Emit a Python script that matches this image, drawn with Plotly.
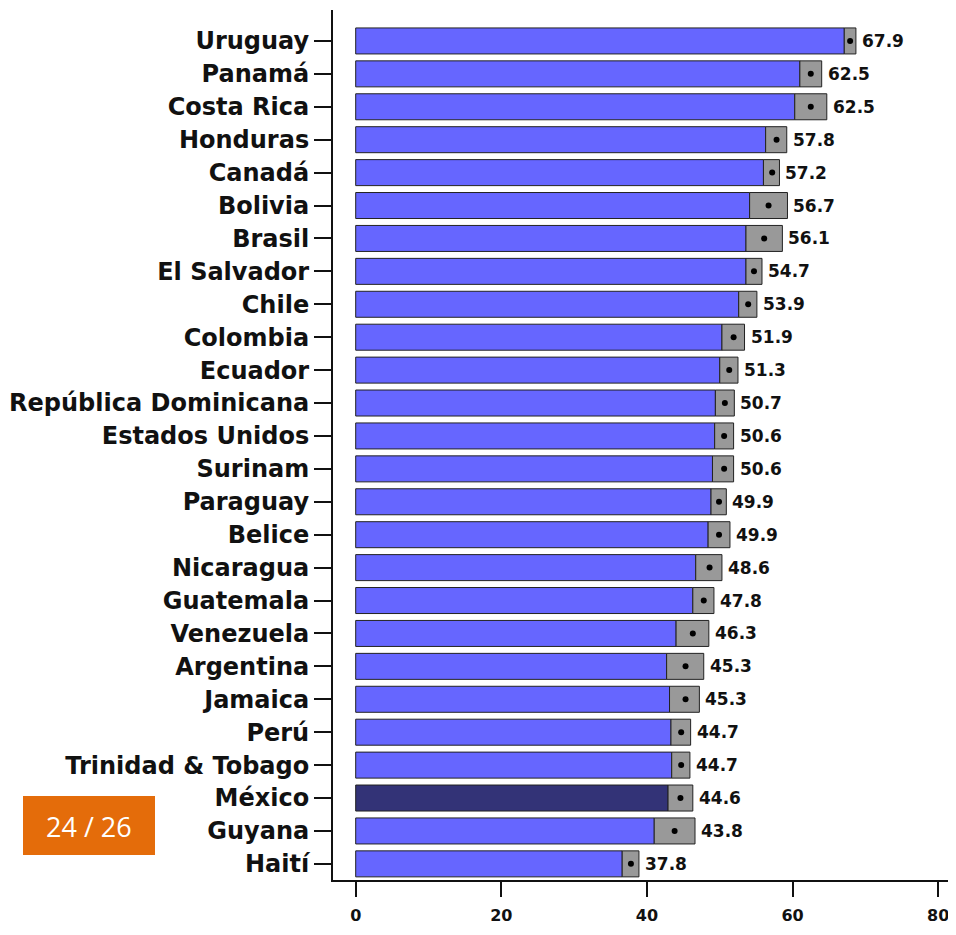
import plotly.graph_objects as go

countries = ["Uruguay", "Panamá", "Costa Rica", "Honduras", "Canadá", "Bolivia", "Brasil",
             "El Salvador", "Chile", "Colombia", "Ecuador", "República Dominicana",
             "Estados Unidos", "Surinam", "Paraguay", "Belice", "Nicaragua", "Guatemala",
             "Venezuela", "Argentina", "Jamaica", "Perú", "Trinidad & Tobago", "México",
             "Guyana", "Haití"]
values = [67.9, 62.5, 62.5, 57.8, 57.2, 56.7, 56.1, 54.7, 53.9, 51.9, 51.3, 50.7, 50.6,
          50.6, 49.9, 49.9, 48.6, 47.8, 46.3, 45.3, 45.3, 44.7, 44.7, 44.6, 43.8, 37.8]
ci_low = [67.1, 61.0, 60.3, 56.3, 56.0, 54.1, 53.6, 53.6, 52.6, 50.3, 50.0, 49.4, 49.3,
          49.0, 48.8, 48.4, 46.7, 46.3, 44.0, 42.7, 43.1, 43.3, 43.4, 42.9, 41.0, 36.6]
ci_high = [68.7, 64.0, 64.7, 59.2, 58.2, 59.3, 58.6, 55.8, 55.1, 53.4, 52.5, 52.0, 51.9,
           51.9, 50.9, 51.4, 50.3, 49.2, 48.5, 47.8, 47.2, 46.0, 45.9, 46.3, 46.6, 38.9]
highlight = "México"
page_label = "24 / 26"

# reverse so first country is at top
cats = countries[::-1]
vals = values[::-1]
lo = ci_low[::-1]
hi = ci_high[::-1]

blue = "#6666FF"
dark = "#333377"
gray = "#999999"
bar_colors = [dark if c == highlight else blue for c in cats]
FONT = "DejaVu Sans, Verdana, sans-serif"

fig = go.Figure()
fig.add_trace(go.Bar(
    y=cats, x=lo, base=0, orientation="h", width=0.79,
    marker=dict(color=bar_colors, line=dict(color="#222222", width=1)),
    hoverinfo="skip", showlegend=False))
fig.add_trace(go.Bar(
    y=cats, x=[h - l for h, l in zip(hi, lo)], base=lo, orientation="h", width=0.79,
    marker=dict(color=gray, line=dict(color="#222222", width=1)),
    hoverinfo="skip", showlegend=False))
fig.add_trace(go.Scatter(
    y=cats, x=vals, mode="markers",
    marker=dict(color="black", size=6), showlegend=False, hoverinfo="skip"))

annotations = []
for c, v, h in zip(cats, vals, hi):
    annotations.append(dict(
        x=h, y=c, xref="x", yref="y", text=f"{v:.1f}", showarrow=False,
        xanchor="left", yanchor="middle", xshift=4,
        font=dict(family=FONT, size=17, color="#111111", weight="bold")))

# plot area in page: x 333..956, y 10..880 (page has 8px body margin)
W, H = 948, 919
PL, PR, PT, PB = 333, 956, 10, 880
pw, ph = PR - PL, PB - PT

annotations.append(dict(
    text=page_label, xref="paper", yref="paper",
    x=(89 - PL) / pw, y=(PB - 826) / ph,
    showarrow=False, xanchor="center", yanchor="middle",
    font=dict(family="Open Sans, Noto Sans", size=27, color="white")))

# x range so that 0 sits at 355.7 px and 80 at 938.2 px
px_per_unit = (938.2 - 355.7) / 80
x0 = -(355.7 - PL) / px_per_unit
x1 = x0 + pw / px_per_unit

fig.update_layout(
    width=W, height=H,
    margin=dict(l=PL - 8, r=W - (PR - 8), t=PT - 8, b=H - (PB - 8), autoexpand=False),
    barmode="overlay",
    plot_bgcolor="white", paper_bgcolor="white",
    font=dict(family=FONT, color="#111111"),
    xaxis=dict(range=[x0, x1], tickvals=[0, 20, 40, 60, 80], automargin=False,
               showgrid=False, zeroline=False, showline=True, linecolor="#111111", linewidth=2,
               ticks="outside", ticklen=15, tickwidth=2, tickcolor="#111111",
               ticklabelstandoff=5, ticklabeloverflow="allow",
               tickfont=dict(size=16, weight="bold", family=FONT)),
    yaxis=dict(type="category", categoryorder="array", categoryarray=cats, automargin=False,
               range=[-0.49, 25.94], showgrid=False, zeroline=False,
               showline=True, linecolor="#111111", linewidth=2,
               ticks="outside", ticklen=17, tickwidth=2, tickcolor="#111111",
               tickfont=dict(size=24, weight="bold", family=FONT)),
    shapes=[dict(type="rect", xref="paper", yref="paper",
                 x0=(23 - PL) / pw, x1=(155 - PL) / pw,
                 y0=(PB - 855) / ph, y1=(PB - 796) / ph,
                 fillcolor="#E46C0A", line=dict(width=0), layer="above")],
    annotations=annotations,
)

fig.write_html("out.html")
